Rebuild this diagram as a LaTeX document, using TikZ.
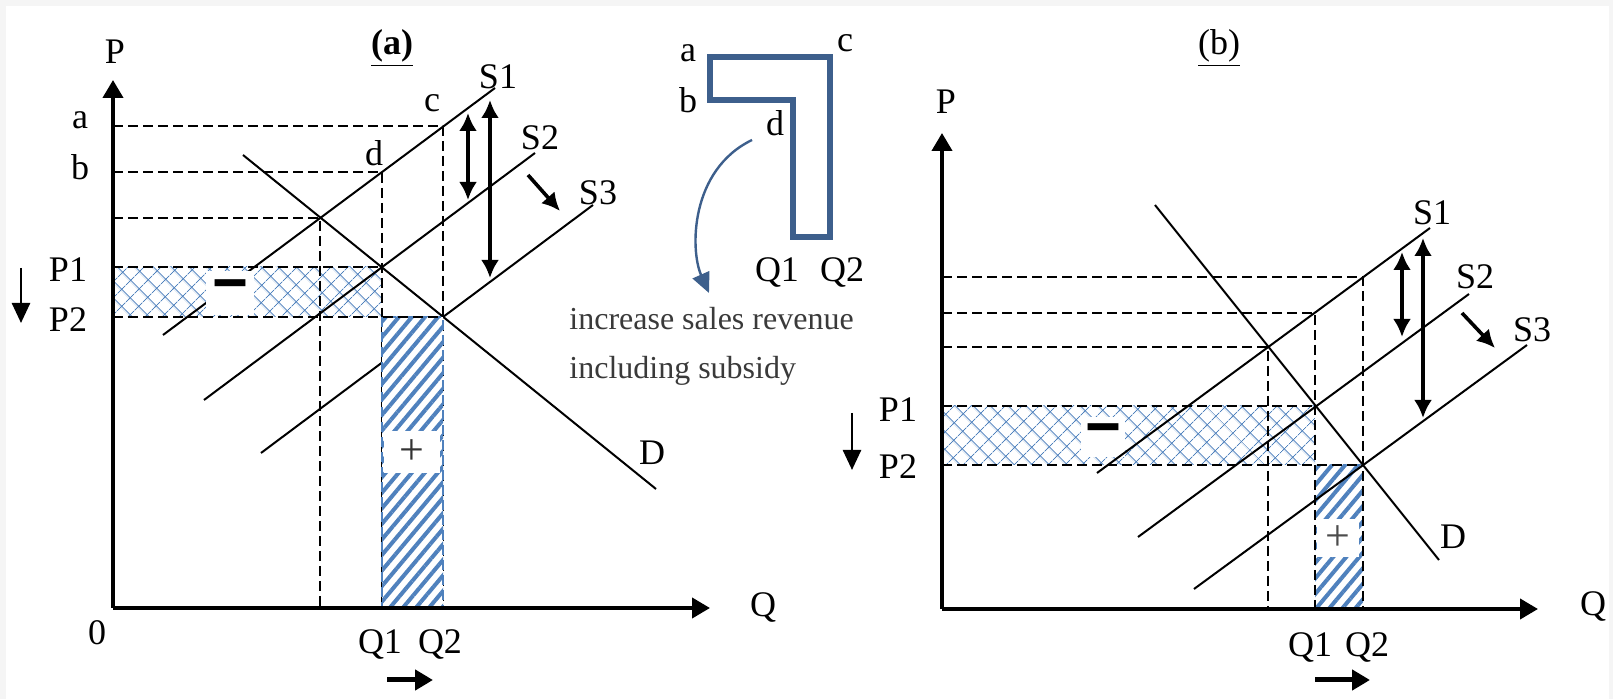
\documentclass[tikz,border=0pt]{standalone}
\usepackage{fontspec}
\setmainfont{Liberation Serif}
\usetikzlibrary{arrows.meta,patterns.meta}
\definecolor{hatchblue}{HTML}{4F81BD}
\definecolor{shapeblue}{HTML}{3D5F8C}
\definecolor{notegray}{HTML}{3A3A3A}

\begin{document}
\begin{tikzpicture}[x=0.5pt, y=-0.5pt,
lbl/.style={font=\fontsize{18}{20}\selectfont, inner sep=1pt},
note/.style={font=\fontsize{16}{24.5}\selectfont, text=notegray, align=left, inner sep=0pt},
axisline/.style={line width=2pt, -{Triangle[length=9pt,width=10pt]}},
econline/.style={line width=1pt},
dashline/.style={line width=0.75pt, dash pattern=on 5pt off 2.5pt},
loss/.style={pattern={Hatch[angle=45,distance=6.5pt,line width=0.5pt]}, pattern color=hatchblue},
gain/.style={pattern={Lines[angle=50,distance=5pt,line width=2pt]}, pattern color=hatchblue},
gap/.style={fill=white, inner sep=0pt, font=\fontsize{10}{12}\selectfont},
dbl/.style={line width=1.8pt, {Latex[length=9pt,width=9pt]}-{Latex[length=9pt,width=9pt]}},
movearrow/.style={line width=1.8pt, -{Latex[length=9pt,width=9pt]}},
pricearrow/.style={line width=1.3pt, -{Triangle[length=10pt,width=9pt]}},
qarrow/.style={line width=2.5pt, -{Triangle[length=9pt,width=10pt]}}
]
\useasboundingbox (0,0) rectangle (1613,699);
\fill[gray!8] (0,0) rectangle (1613,699);
\fill[white] (6,6) rectangle (1609,699);

% panel (a)
\coordinate (aO) at (113,608);
\coordinate (aE) at (320,218);
\coordinate (ad) at (382,172);
\coordinate (ac) at (443,126);
\coordinate (aF) at (382,267);
\coordinate (aG) at (443,317);
\coordinate (aD1) at (243,155);
\coordinate (aD2) at (656,489);
\coordinate (aS1a) at (163,335);
\coordinate (aS1b) at (495,88);
\coordinate (aS2a) at (204,400);
\coordinate (aS2b) at (535,153);
\coordinate (aS3a) at (261,453);
\coordinate (aS3b) at (593,205);

\fill[loss] (aO |- aF) rectangle (aF |- aG);
\draw[dashline] (aO |- ac) -- (ac) -- (ac |- aO);
\draw[dashline] (aO |- ad) -- (ad) -- (ad |- aO);
\draw[dashline] (aO |- aE) -- (aE) -- (aE |- aO);
\draw[dashline] (aO |- aF) -- (aF);
\draw[econline] (aD1) -- (aD2);
\draw[econline] (aS1a) -- (aS1b);
\draw[econline] (aS2a) -- (aS2b);
\draw[econline] (aS3a) -- (aS3b);
\filldraw[fill=white, draw=hatchblue, dashline] (aF |- aG) rectangle (aG |- aO);
\fill[gain] (aF |- aG) rectangle (aG |- aO);
\draw[dashline] (aO |- aG) -- (aG);
\draw[axisline] (aO) -- (113,80);
\draw[axisline] (aO) -- (710,608);

\node[lbl] (aP) at (115,52) {P};
\node[lbl, font=\fontsize{18}{20}\selectfont\bfseries] (atitle) at (392,48) {\underline{(a)}};
\node[lbl] (aLa) at (80,120) {a};
\node[lbl] (aLb) at (80,167) {b};
\node[lbl] (aP1) at (68,270) {P1};
\node[lbl] (aP2) at (68,320) {P2};
\node[lbl] (aZero) at (97,633) {0};
\node[lbl] (aQ) at (763,608) {Q};
\node[lbl] (aQ1) at (380,645) {Q1};
\node[lbl] (aQ2) at (440,645) {Q2};
\node[lbl] (aLc) at (432,103) {c};
\node[lbl] (aLd) at (374,153) {d};
\node[lbl] (aS1) at (498,77) {S1};
\node[lbl] (aS2) at (540,138) {S2};
\node[lbl] (aS3) at (598,193) {S3};
\node[lbl] (aD) at (652,453) {D};
\node[gap, minimum width=24pt, minimum height=22pt] (aMinus) at (230,293) {\scalebox{3}[5]{\bfseries –}};
\node[gap, minimum width=28pt, minimum height=21pt, font=\fontsize{22}{22}\selectfont, text=black!80] (aPlus) at (412,452) {+};

\coordinate (aUp1) at (468,113);
\coordinate (aDn1) at (468,200);
\coordinate (aUp2) at (490,100);
\coordinate (aDn2) at (490,278);
\coordinate (aM1) at (528,175);
\coordinate (aM2) at (560,211);
\coordinate (aPr1) at (21,268);
\coordinate (aPr2) at (21,323);
\coordinate (aQa) at (387,680);
\coordinate (aQb) at (433,680);
\draw[dbl] (aUp1) -- (aDn1);
\draw[dbl] (aUp2) -- (aDn2);
\draw[movearrow] (aM1) -- (aM2);
\draw[pricearrow] (aPr1) -- (aPr2);
\draw[qarrow] (aQa) -- (aQb);

% inset
\draw[shapeblue, line width=3pt] (710,57) -- (830,57) -- (830,237) -- (793,237) -- (793,100) -- (710,100) -- cycle;
\node[lbl] (mLa) at (688,53) {a};
\node[lbl] (mLb) at (688,100) {b};
\node[lbl] (mLc) at (845,43) {c};
\node[lbl] (mLd) at (775,123) {d};
\node[lbl] (mQ1) at (777,273) {Q1};
\node[lbl] (mQ2) at (842,273) {Q2};
\node[note, anchor=west] (mNote) at (569,346) {increase sales revenue\\including subsidy};
\coordinate (mFrom) at (752,140);
\coordinate (mTo) at (709,293);
\draw[shapeblue, line width=1.2pt, -{Triangle[length=10pt,width=9pt]}] (mFrom) .. controls (690,170) and (690,250) .. (mTo);

% panel (b)
\coordinate (bO) at (942,609);
\coordinate (bE) at (1268,347);
\coordinate (bd) at (1315,313);
\coordinate (bc) at (1363,277);
\coordinate (bF) at (1315,406);
\coordinate (bG) at (1363,465);
\coordinate (bD1) at (1155,205);
\coordinate (bD2) at (1439,560);
\coordinate (bS1a) at (1097,473);
\coordinate (bS1b) at (1430,228);
\coordinate (bS2a) at (1138,537);
\coordinate (bS2b) at (1469,294);
\coordinate (bS3a) at (1194,589);
\coordinate (bS3b) at (1527,345);

\fill[loss] (bO |- bF) rectangle (bF |- bG);
\fill[gain] (bF |- bG) rectangle (bG |- bO);
\node[gap, minimum width=22pt, minimum height=20pt] (bMinus) at (1103,437) {\scalebox{3}[5]{\bfseries –}};
\node[gap, minimum width=21pt, minimum height=19pt, font=\fontsize{22}{22}\selectfont, text=black!70] (bPlus) at (1338,538) {+};
\draw[dashline] (bO |- bc) -- (bc) -- (bc |- bO);
\draw[dashline] (bO |- bd) -- (bd) -- (bd |- bO);
\draw[dashline] (bO |- bE) -- (bE) -- (bE |- bO);
\draw[dashline] (bO |- bF) -- (bF);
\draw[dashline] (bO |- bG) -- (bG);
\draw[econline] (bD1) -- (bD2);
\draw[econline] (bS1a) -- (bS1b);
\draw[econline] (bS2a) -- (bS2b);
\draw[econline] (bS3a) -- (bS3b);
\draw[axisline] (bO) -- (942,133);
\draw[axisline] (bO) -- (1538,609);

\node[lbl] (bP) at (946,102) {P};
\node[lbl] (btitle) at (1219,48) {\underline{(b)}};
\node[lbl] (bP1) at (898,410) {P1};
\node[lbl] (bP2) at (898,467) {P2};
\node[lbl] (bQ) at (1593,607) {Q};
\node[lbl] (bQ1) at (1310,648) {Q1};
\node[lbl] (bQ2) at (1367,648) {Q2};
\node[lbl] (bS1) at (1432,213) {S1};
\node[lbl] (bS2) at (1475,277) {S2};
\node[lbl] (bS3) at (1532,330) {S3};
\node[lbl] (bD) at (1453,537) {D};

\coordinate (bUp1) at (1402,252);
\coordinate (bDn1) at (1402,337);
\coordinate (bUp2) at (1423,238);
\coordinate (bDn2) at (1423,418);
\coordinate (bM1) at (1462,313);
\coordinate (bM2) at (1495,348);
\coordinate (bPr1) at (852,413);
\coordinate (bPr2) at (852,470);
\coordinate (bQa) at (1315,680);
\coordinate (bQb) at (1370,680);
\draw[dbl] (bUp1) -- (bDn1);
\draw[dbl] (bUp2) -- (bDn2);
\draw[movearrow] (bM1) -- (bM2);
\draw[pricearrow] (bPr1) -- (bPr2);
\draw[qarrow] (bQa) -- (bQb);
\end{tikzpicture}
\end{document}
